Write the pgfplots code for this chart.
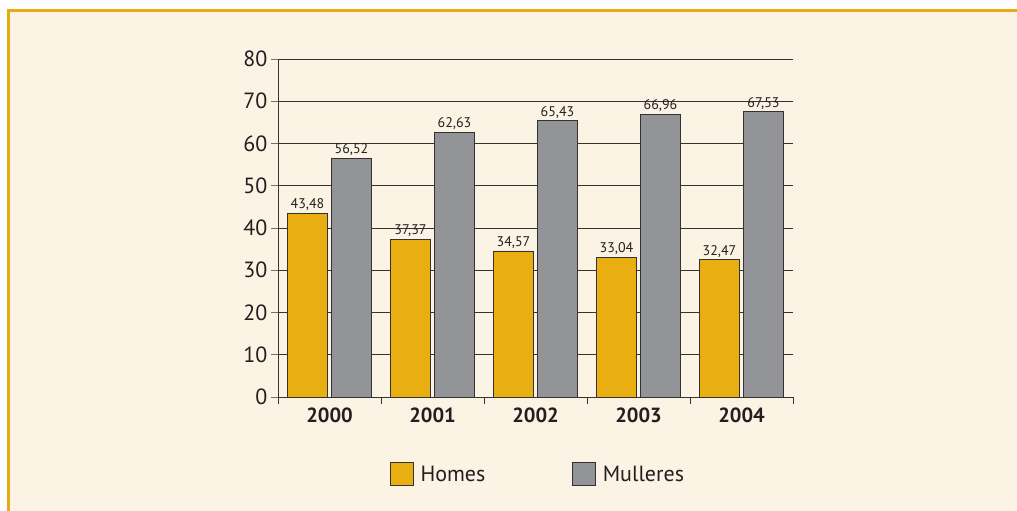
\documentclass[border=0pt]{standalone}
\usepackage{pgfplots}
\pgfplotsset{compat=1.18}
\usepackage{fontspec}
\setmainfont{PT Sans}
\definecolor{bg}{RGB}{251,243,228}
\definecolor{framec}{RGB}{232,169,23}
\definecolor{orangebar}{RGB}{232,174,18}
\definecolor{graybar}{RGB}{147,148,152}
\definecolor{txt}{RGB}{35,31,32}
\definecolor{edge}{RGB}{55,50,50}
\begin{document}
\begin{tikzpicture}[x=1pt,y=1pt]
\fill[white] (0,0) rectangle (1017,511);
\fill[bg] (8,0) rectangle (1017,500);
\fill[framec] (7,0) rectangle (9.5,502);
\fill[framec] (7,499) rectangle (1017,502);
\useasboundingbox (0,0) rectangle (1017,511);
\begin{axis}[
  at={(278pt,114pt)}, anchor=south west,
  width=515pt, height=338pt, scale only axis,
  xmin=-0.5, xmax=4.5, ymin=0, ymax=80,
  /pgf/number format/assume math mode=true,
  axis lines=left, axis line style={-, draw=edge, line width=0.8pt},
  ytick={0,10,...,80},
  ymajorgrids, grid style={draw=edge, line width=0.8pt},
  xtick={0,...,4}, xticklabels={2000,2001,2002,2003,2004},
  minor xtick={-0.5,0.5,1.5,2.5,3.5,4.5},
  tick align=outside, major tick length=7pt, minor tick length=7pt,
  major x tick style={draw=none},
  minor x tick style={draw=edge, line width=0.8pt},
  major y tick style={draw=edge!70, line width=0.8pt},
  yticklabel style={font=\fontsize{22}{22}\selectfont, color=txt},
  xticklabel style={font=\fontsize{20.5}{21}\selectfont\bfseries, color=txt},
  ybar=4pt, bar width=40pt,
  nodes near coords={\pgfmathprintnumber[use comma,fixed,fixed zerofill,precision=2]{\pgfplotspointmeta}},
  every node near coord/.append style={font=\fontsize{14}{14}\selectfont, color=txt, inner sep=2pt},
  legend style={at={(0.505,-0.228)}, anchor=center, draw=none, fill=none,
    legend columns=2, font=\fontsize{22}{22}\selectfont, text=txt,
    /tikz/every even column/.append style={column sep=85pt}},
  legend image code/.code={\path[draw=none,fill=none] (0pt,0pt) rectangle (28pt,1pt);\draw[#1] (0pt,-11.5pt) rectangle (23pt,11.5pt);},
]
\addplot[fill=orangebar, draw=edge, line width=0.8pt] coordinates {(0,43.48) (1,37.37) (2,34.57) (3,33.04) (4,32.47)};
\addplot[fill=graybar, draw=edge, line width=0.8pt] coordinates {(0,56.52) (1,62.63) (2,65.43) (3,66.96) (4,67.53)};
\legend{Homes, Mulleres}
\end{axis}
\end{tikzpicture}
\end{document}
